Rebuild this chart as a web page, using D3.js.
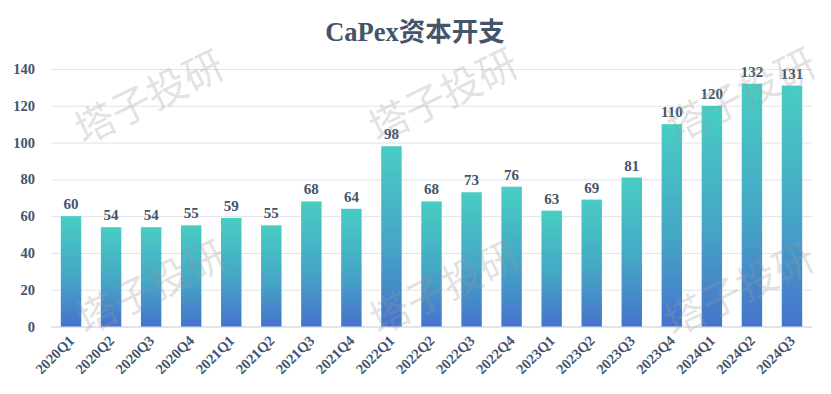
<!DOCTYPE html>
<html>
<head>
<meta charset="utf-8">
<script src="https://cdn.jsdelivr.net/npm/d3@7"></script>
<style>
  html, body { margin: 0; padding: 0; background: #fff; }
  svg { display: block; }
</style>
</head>
<body>
<div id="chart"></div>
<script>
const quarters = ['2020Q1', '2020Q2', '2020Q3', '2020Q4', '2021Q1', '2021Q2', '2021Q3', '2021Q4',
  '2022Q1', '2022Q2', '2022Q3', '2022Q4', '2023Q1', '2023Q2', '2023Q3', '2023Q4',
  '2024Q1', '2024Q2', '2024Q3'];
const capex = [60, 54, 54, 55, 59, 55, 68, 64, 98, 68, 73, 76, 63, 69, 81, 110, 120, 132, 131];
const yTicks = [0, 20, 40, 60, 80, 100, 120, 140];
const title = 'CaPex资本开支';
const watermark = '塔子投研';

const width = 831, height = 394;
const margin = { top: 69, right: 19, bottom: 67.5, left: 51 };
const innerW = width - margin.left - margin.right;
const innerH = height - margin.top - margin.bottom;
const serif = '"Liberation Serif", "Times New Roman", "Noto Sans CJK SC", serif';
const textColor = '#44546a';

const svg = d3.select('#chart').append('svg')
  .attr('width', width)
  .attr('height', height);

// bar gradient, teal on top to blue at bottom
const grad = svg.append('defs').append('linearGradient')
  .attr('id', 'barGrad')
  .attr('x1', 0).attr('y1', 0).attr('x2', 0).attr('y2', 1);
grad.append('stop').attr('offset', '0%').attr('stop-color', '#48cdc3');
grad.append('stop').attr('offset', '55%').attr('stop-color', '#45a6c6');
grad.append('stop').attr('offset', '100%').attr('stop-color', '#4673cd');

svg.append('text')
  .attr('x', 415)
  .attr('y', 41)
  .attr('text-anchor', 'middle')
  .attr('font-family', serif)
  .attr('font-weight', 'bold')
  .attr('font-size', 26.5)
  .attr('fill', textColor)
  .text(title);

const g = svg.append('g')
  .attr('transform', `translate(${margin.left},${margin.top})`);

const x = d3.scaleBand()
  .domain(quarters)
  .range([0, innerW])
  .paddingInner(0.49)
  .paddingOuter(0.245);

const y = d3.scaleLinear()
  .domain([0, 140])
  .range([innerH, 0]);

// grid lines + y labels
g.append('g')
  .call(d3.axisLeft(y).tickValues(yTicks).tickSize(-innerW).tickPadding(16))
  .call(a => a.select('.domain').remove())
  .call(a => a.selectAll('.tick line')
    .attr('stroke', d => d === 0 ? '#d5dcea' : '#dfe3ea')
    .attr('stroke-width', d => d === 0 ? 1.5 : 1))
  .call(a => a.selectAll('.tick text')
    .attr('font-family', serif)
    .attr('font-weight', 'bold')
    .attr('font-size', 14.5)
    .attr('fill', textColor));

// bars
g.selectAll('.bar')
  .data(capex)
  .join('rect')
  .attr('class', 'bar')
  .attr('x', (d, i) => x(quarters[i]))
  .attr('y', d => y(d))
  .attr('width', x.bandwidth())
  .attr('height', d => innerH - y(d))
  .attr('fill', 'url(#barGrad)');

// value labels
g.selectAll('.val')
  .data(capex)
  .join('text')
  .attr('class', 'val')
  .attr('x', (d, i) => x(quarters[i]) + x.bandwidth() / 2)
  .attr('y', d => y(d) - 7)
  .attr('text-anchor', 'middle')
  .attr('font-family', serif)
  .attr('font-weight', 'bold')
  .attr('font-size', 15)
  .attr('fill', textColor)
  .text(d => d);

// x labels rotated
g.append('g')
  .attr('transform', `translate(0,${innerH})`)
  .call(d3.axisBottom(x).tickSize(0).tickPadding(0))
  .call(a => a.select('.domain').remove())
  .call(a => a.selectAll('.tick text')
    .attr('font-family', serif)
    .attr('font-weight', 'bold')
    .attr('font-size', 14.5)
    .attr('fill', textColor)
    .attr('text-anchor', 'end')
    .attr('dy', 0)
    .attr('transform', 'translate(4,15) rotate(-45)'));

// watermarks
const marks = [[148, 95], [442, 93], [740, 93], [150, 285], [443, 285], [738, 287]];
svg.append('g')
  .selectAll('text')
  .data(marks)
  .join('text')
  .attr('transform', d => `translate(${d[0]},${d[1]}) rotate(-26)`)
  .attr('text-anchor', 'middle')
  .attr('dominant-baseline', 'central')
  .attr('font-family', '"Noto Sans CJK SC", sans-serif')
  .attr('font-size', 40)
  .attr('fill', '#9a9a9a')
  .attr('fill-opacity', 0.28)
  .text(watermark);
</script>
</body>
</html>
